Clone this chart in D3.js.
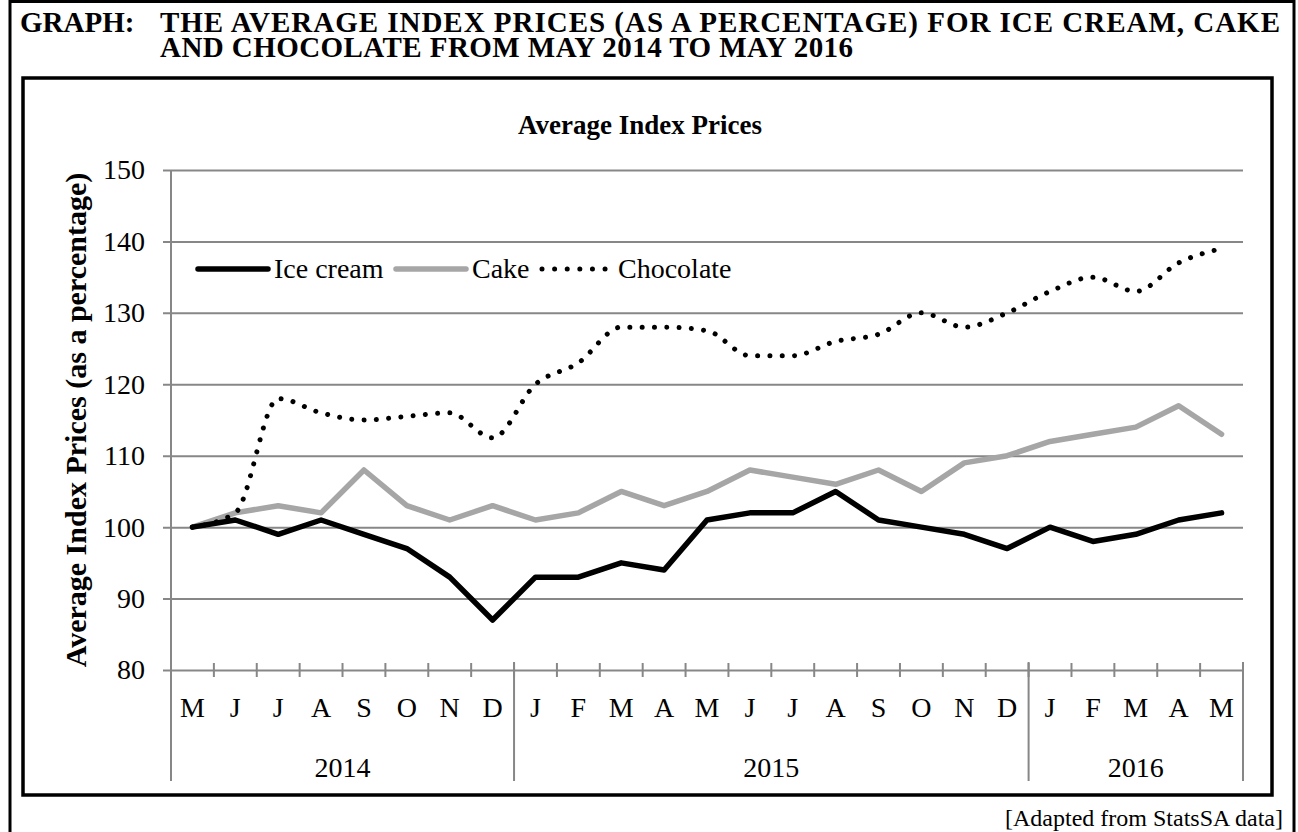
<!DOCTYPE html>
<html>
<head>
<meta charset="utf-8">
<script src="https://cdn.jsdelivr.net/npm/d3@7"></script>
<style>
  body { margin: 0; background: #fff; }
  svg { display: block; font-family: "Liberation Serif", "Times New Roman", serif; }
</style>
</head>
<body>
<svg id="chart" width="1298" height="832"></svg>
<script>
// months May 2014 .. May 2016
const months = ['M','J','J','A','S','O','N','D',
                'J','F','M','A','M','J','J','A','S','O','N','D',
                'J','F','M','A','M'];
const years = [
  { label: '2014', start: 0, end: 8 },
  { label: '2015', start: 8, end: 20 },
  { label: '2016', start: 20, end: 25 }
];
const iceCream  = [100,101,99,101,99,97,93,87,93,93,95,94,101,102,102,105,101,100,99,97,100,98,99,101,102];
const cake      = [100,102,103,102,108,103,101,103,101,102,105,103,105,108,107,106,108,105,109,110,112,113,114,117,113];
const chocolate = [100,102,118,116,115,115.5,116,112.5,120,123,128,128,127.5,124,124,126,127,130,128,130,133,135,133,137,139];
const yTicks = [80, 90, 100, 110, 120, 130, 140, 150];

const svg = d3.select('#chart');

// Define the dimensions
const dim = { left: 171, right: 1243, top: 170, bottom: 670 };

// outer frame and inner chart frame
svg.append('rect').attr('x', 10).attr('y', 1.5).attr('width', 1284).attr('height', 900)
   .attr('fill', 'none').attr('stroke', '#000').attr('stroke-width', 3);
svg.append('rect').attr('x', 23).attr('y', 78).attr('width', 1249).attr('height', 717)
   .attr('fill', 'none').attr('stroke', '#000').attr('stroke-width', 3.5);

// page title
const title = svg.append('g').attr('font-weight', 'bold').attr('font-size', 29);
title.append('text').attr('x', 20).attr('y', 32).text('GRAPH:');
title.append('text').attr('x', 160).attr('y', 32)
     .attr('textLength', 1120).attr('lengthAdjust', 'spacing')
     .text('THE AVERAGE INDEX PRICES (AS A PERCENTAGE) FOR ICE CREAM, CAKE');
title.append('text').attr('x', 160).attr('y', 57)
     .attr('textLength', 693).attr('lengthAdjust', 'spacing')
     .text('AND CHOCOLATE FROM MAY 2014 TO MAY 2016');

// source
svg.append('text').attr('x', 1283).attr('y', 826).attr('text-anchor', 'end')
   .attr('font-size', 24).text('[Adapted from StatsSA data]');

// chart title
svg.append('text').attr('x', 640).attr('y', 134).attr('text-anchor', 'middle')
   .attr('font-weight', 'bold').attr('font-size', 27).text('Average Index Prices');

// Define the scales
const x = d3.scaleLinear().domain([0, months.length]).range([dim.left, dim.right]);
const y = d3.scaleLinear().domain([80, 150]).range([dim.bottom, dim.top]);

// y axis with gridlines
const yAxis = d3.axisLeft(y).tickValues(yTicks)
                .tickSizeInner(-(dim.right - dim.left + 8)).tickSizeOuter(0).tickPadding(18);
const gy = svg.append('g').attr('transform', 'translate(' + (dim.left - 8) + ',0)').call(yAxis);
gy.select('.domain').remove();
gy.selectAll('.tick line').attr('stroke', '#878787').attr('stroke-width', 2);
gy.selectAll('.tick text').attr('font-size', 28).attr('fill', '#000')
  .attr('font-family', '"Liberation Serif", serif');
svg.append('line').attr('x1', dim.left).attr('x2', dim.left).attr('y1', dim.top).attr('y2', dim.bottom)
   .attr('stroke', '#878787').attr('stroke-width', 2);

// y axis title
svg.append('text').attr('transform', 'translate(86,420) rotate(-90)')
   .attr('text-anchor', 'middle').attr('font-weight', 'bold').attr('font-size', 30)
   .text('Average Index Prices (as a percentage)');

// x axis: cross ticks on each month boundary
const bounds = d3.range(months.length + 1);
svg.append('g').selectAll('line').data(bounds).enter().append('line')
   .attr('x1', d => x(d)).attr('x2', d => x(d))
   .attr('y1', dim.bottom - 7).attr('y2', dim.bottom + 7)
   .attr('stroke', '#878787').attr('stroke-width', 2);
// year separators
const sep = [0].concat(years.map(d => d.end));
svg.append('g').selectAll('line').data(sep).enter().append('line')
   .attr('x1', d => x(d)).attr('x2', d => x(d))
   .attr('y1', dim.bottom - 8).attr('y2', 781)
   .attr('stroke', '#878787').attr('stroke-width', 2);
// month labels
svg.append('g').selectAll('text').data(months).enter().append('text')
   .attr('x', (d, i) => x(i + 0.5)).attr('y', 717).attr('text-anchor', 'middle')
   .attr('font-size', 28).text(d => d);
// year labels
svg.append('g').selectAll('text').data(years).enter().append('text')
   .attr('x', d => x((d.start + d.end) / 2)).attr('y', 777).attr('text-anchor', 'middle')
   .attr('font-size', 28).text(d => d.label);

// lines
const px = (d, i) => x(i + 0.5);
const straight = d3.line().x(px).y(d => y(d));
const smooth = d3.line().x(px).y(d => y(d)).curve(d3.curveMonotoneX);

svg.append('path').datum(cake).attr('d', straight)
   .attr('fill', 'none').attr('stroke', '#a6a6a6').attr('stroke-width', 5.5)
   .attr('stroke-linejoin', 'round').attr('stroke-linecap', 'round');
svg.append('path').datum(iceCream).attr('d', straight)
   .attr('fill', 'none').attr('stroke', '#000').attr('stroke-width', 5.5)
   .attr('stroke-linejoin', 'round').attr('stroke-linecap', 'round');
svg.append('path').datum(chocolate).attr('d', smooth)
   .attr('fill', 'none').attr('stroke', '#000').attr('stroke-width', 5)
   .attr('stroke-dasharray', '0.01 12.3').attr('stroke-linecap', 'round');

// legend
const legend = [
  { name: 'Ice cream', x0: 198, x1: 268, tx: 274, color: '#000', dash: null },
  { name: 'Cake', x0: 396, x1: 466, tx: 472, color: '#a6a6a6', dash: null },
  { name: 'Chocolate', x0: 542, x1: 606, tx: 618, color: '#000', dash: '0.01 12.6' }
];
const lg = svg.append('g').selectAll('g').data(legend).enter().append('g');
lg.append('line').attr('x1', d => d.x0).attr('x2', d => d.x1).attr('y1', 269).attr('y2', 269)
  .attr('stroke', d => d.color).attr('stroke-width', d => d.dash ? 5 : 5.5)
  .attr('stroke-linecap', 'round').attr('stroke-dasharray', d => d.dash);
lg.append('text').attr('x', d => d.tx).attr('y', 278).attr('font-size', 28).text(d => d.name);
</script>
</body>
</html>
